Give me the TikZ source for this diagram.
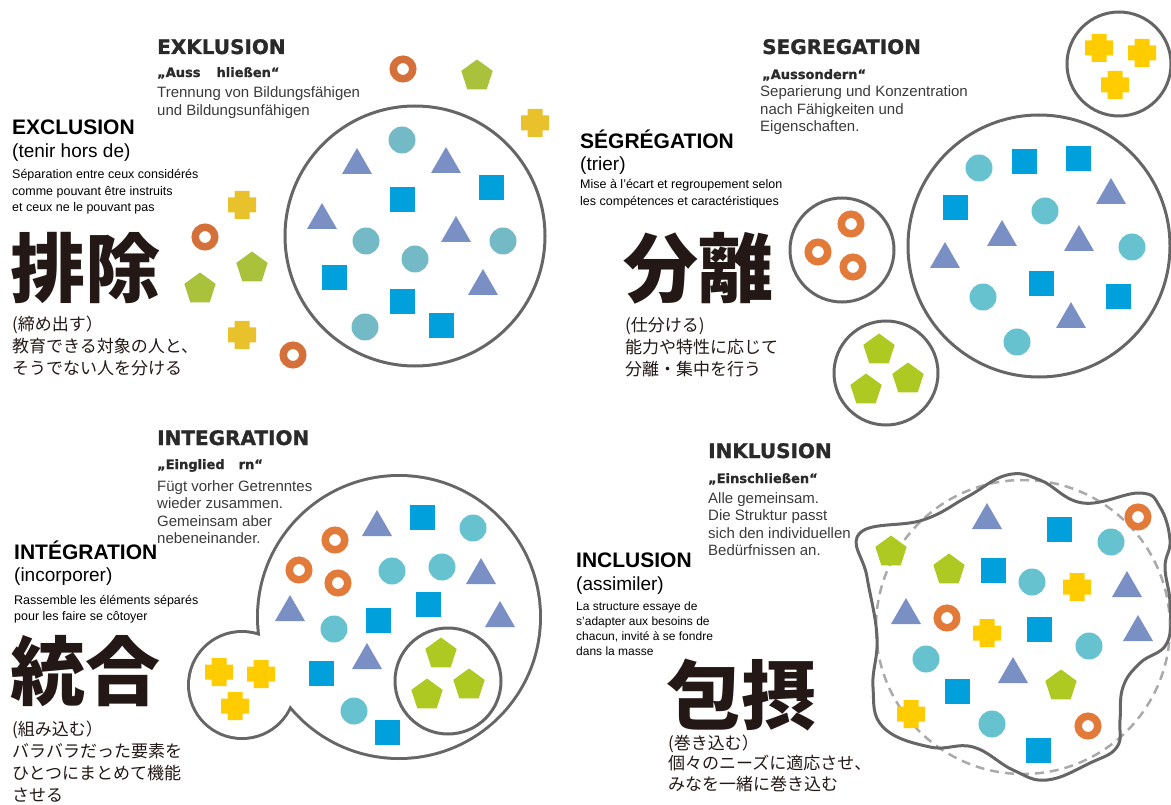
\documentclass[tikz,border=0pt]{standalone}
\usepackage{fontspec}
\setmainfont{Liberation Sans}
\newfontfamily\heavy[BoldFeatures={FakeBold=1.2}]{DejaVu Sans}
\newfontfamily\jp{Noto Sans CJK JP}
\definecolor{discc}{HTML}{66C2CF}
\definecolor{discx}{HTML}{74BAC6}
\definecolor{squc}{HTML}{00A0DC}
\definecolor{tric}{HTML}{7A8FC4}
\definecolor{pentc}{HTML}{AECA22}
\definecolor{pentx}{HTML}{A9C13B}
\definecolor{plusc}{HTML}{FFCC00}
\definecolor{plusx}{HTML}{E9C12B}
\definecolor{ringc}{HTML}{E27A3A}
\definecolor{ringx}{HTML}{D4713A}
\definecolor{outl}{HTML}{666666}
\definecolor{dashc}{HTML}{AAAAAA}
\definecolor{degr}{HTML}{2A2A2A}
\definecolor{detxt}{HTML}{3A3A3A}
\definecolor{jptxt}{HTML}{231815}
\tikzset{
  pics/disc/.style={code={\fill[#1] (0,0) circle [radius=13.5];}},
  pics/disc/.default=discc,
  pics/squ/.style={code={\fill[squc] (-12.5,-12.5) rectangle (12.5,12.5);}},
  pics/tri/.style={code={\fill[tric] (-15,9) -- (15,9) -- (0,-17) -- cycle;}},
  pics/pent/.style={code={\fill[#1] (-90:16.5) -- (-18:16.5) -- (54:16.5) -- (126:16.5) -- (198:16.5) -- cycle;}},
  pics/pent/.default=pentc,
  pics/plus/.style={code={\fill[#1] (-14,-7.5) rectangle (14,7.5) (-7.5,-14) rectangle (7.5,14);}},
  pics/plus/.default=plusc,
  pics/ring/.style={code={\draw[#1, line width=7.5] (0,0) circle [radius=9.75];}},
  pics/ring/.default=ringc,
  txt/.style={anchor=base west, inner sep=0pt, align=left},
  detitle/.style={txt, text=degr, font=\heavy\bfseries\fontsize{20}{24}\selectfont},
  dequote/.style={txt, text=degr, font=\heavy\bfseries\fontsize{13}{16}\selectfont},
  debody/.style={txt, text=detxt, font=\fontsize{15}{17.5}\selectfont},
  frtitle/.style={txt, font=\bfseries\fontsize{21}{24}\selectfont},
  frsub/.style={txt, font=\fontsize{19}{22}\selectfont},
  frbody/.style={txt, font=\fontsize{12.5}{16.5}\selectfont},
  bigkanji/.style={txt, text=jptxt, font=\jp\bfseries\fontsize{75}{80}\selectfont},
  jpbody/.style={txt, text=jptxt, font=\jp\fontsize{17}{21.7}\selectfont},
  rim/.style={outl, line width=3}
}
\begin{document}
\begin{tikzpicture}[x=1pt,y=-1pt]
\useasboundingbox (0,0) rectangle (1171,805);

% exclusion (multi-line texts sit on their last line)
\node [detitle] (exkl) at (157,54) {EXKLUSION};
\node [dequote] (exklq) at (157,77) {„Auss\hspace{16pt}hließen“};
\node [debody] (exkltxt) at (157,115.5) {Trennung von Bildungsfähigen\\und Bildungsunfähigen};
\node [frtitle] (excl) at (12,135) {EXCLUSION};
\node [frsub] (exclsub) at (12,158) {(tenir hors de)};
\node [frbody] (excltxt) at (12,212) {Séparation entre ceux considérés\\comme pouvant être instruits\\et ceux ne le pouvant pas};
\node [bigkanji] (haijo) at (10,297) {排除};
\node [jpbody] (haijotxt) at (12,374) {(締め出す）\\教育できる対象の人と、\\そうでない人を分ける};

\draw[rim] (415,236) circle [radius=130];
\pic at (402,140) {disc=discx};
\pic at (357,165) {tri};
\pic at (446,164) {tri};
\pic at (491,188) {squ};
\pic at (402,200) {squ};
\pic at (322,220) {tri};
\pic at (366,241) {disc=discx};
\pic at (456,233) {tri};
\pic at (503,241) {disc=discx};
\pic at (415,259) {disc=discx};
\pic at (334,278) {squ};
\pic at (402,302) {squ};
\pic at (483,286) {tri};
\pic at (365,327) {disc=discx};
\pic at (441,326) {squ};
\pic at (403,69) {ring=ringx};
\pic at (477,76) {pent=pentx};
\pic at (535,123) {plus=plusx};
\pic at (242,205) {plus=plusx};
\pic at (205,237) {ring=ringx};
\pic at (252,268) {pent=pentx};
\pic at (200,289) {pent=pentx};
\pic at (242,335) {plus=plusx};
\pic at (293,355) {ring=ringx};

% segregation
\node [detitle] (segr) at (762,54) {SEGREGATION};
\node [dequote] (segrq) at (762,79) {„Aussondern“};
\node [debody] (segrtxt) at (760,132) {Separierung und Konzentration\\nach Fähigkeiten und\\Eigenschaften.};
\node [frtitle] (segf) at (580,149) {SÉGRÉGATION};
\node [frsub] (segfsub) at (580,171) {(trier)};
\node [frbody] (segftxt) at (580,205.5) {Mise à l'écart et regroupement selon\\les compétences et caractéristiques};
\node [bigkanji] (bunri) at (623,297) {分離};
\node [jpbody] (bunritxt) at (625,375) {(仕分ける)\\能力や特性に応じて\\分離・集中を行う};

\draw[rim] (1119,64) circle [radius=52];
\pic at (1099,48) {plus};
\pic at (1142,53) {plus};
\pic at (1115,85) {plus};
\draw[rim] (1039,246) circle [radius=131];
\pic at (979,168) {disc};
\pic at (1024,162) {squ};
\pic at (1078,159) {squ};
\pic at (955,208) {squ};
\pic at (1045,211) {disc};
\pic at (1111,195) {tri};
\pic at (1002,237) {tri};
\pic at (1079,242) {tri};
\pic at (1132,247) {disc};
\pic at (945,259) {tri};
\pic at (1041,284) {squ};
\pic at (1118,297) {squ};
\pic at (983,297) {disc};
\pic at (1071,319) {tri};
\pic at (1017,342) {disc};
\draw[rim] (842,250) circle [radius=52];
\pic at (851,224) {ring};
\pic at (818,252) {ring};
\pic at (853,267) {ring};
\draw[rim] (886,373) circle [radius=52];
\pic at (879,350) {pent};
\pic at (908,379) {pent};
\pic at (866,390) {pent};

% integration
\node [detitle] (integ) at (157,445) {INTEGRATION};
\node [dequote] (integq) at (157,469) {„Einglied\hspace{14pt}rn“};
\node [debody] (integtxt) at (157,543.5) {Fügt vorher Getrenntes\\wieder zusammen.\\Gemeinsam aber\\nebeneinander.};
\node [frtitle] (intf) at (14,559) {INTÉGRATION};
\node [frsub] (intfsub) at (14,581) {(incorporer)};
\node [frbody] (intftxt) at (14,620.5) {Rassemble les éléments séparés\\pour les faire se côtoyer};
\node [bigkanji] (tougou) at (10,699) {統合};
\node [jpbody] (tougoutxt) at (12,801) {(組み込む）\\バラバラだった要素を\\ひとつにまとめて機能\\させる};

\draw[outl, line width=6] (399,617) circle [radius=140] (242,685) circle [radius=52];
\fill[white] (399,617) circle [radius=140] (242,685) circle [radius=52];
\draw[rim] (448,681) circle [radius=53];
\pic at (441,654) {pent};
\pic at (469,685) {pent};
\pic at (427,695) {pent};
\pic at (335,540) {ring};
\pic at (299,570) {ring};
\pic at (338,583) {ring};
\pic at (377,527) {tri};
\pic at (422,517) {squ};
\pic at (473,528) {disc};
\pic at (392,571) {disc};
\pic at (442,567) {disc};
\pic at (481,575) {tri};
\pic at (428,604) {squ};
\pic at (290,612) {tri};
\pic at (334,629) {disc};
\pic at (378,620) {squ};
\pic at (500,618) {tri};
\pic at (367,660) {tri};
\pic at (321,673) {squ};
\pic at (354,711) {disc};
\pic at (387,732) {squ};
\pic at (219,672) {plus};
\pic at (261,674) {plus};
\pic at (235,706) {plus};

% inclusion
\node [detitle] (inkl) at (708,458) {INKLUSION};
\node [dequote] (inklq) at (708,483) {„Einschließen“};
\node [debody] (inkltxt) at (708,555.5) {Alle gemeinsam.\\Die Struktur passt\\sich den individuellen\\Bedürfnissen an.};
\node [frtitle] (inclf) at (576,567) {INCLUSION};
\node [frsub] (inclfsub) at (576,590) {(assimiler)};
\node [frbody, font=\fontsize{12}{15}\selectfont] (incltxt) at (576,655) {La structure essaye de\\s'adapter aux besoins de\\chacun, invité à se fondre\\dans la masse};
\node [bigkanji] (housetsu) at (666,723) {包摂};
\node [jpbody, font=\jp\fontsize{17}{20.5}\selectfont] (housetsutxt) at (668,790) {(巻き込む）\\個々のニーズに適応させ、\\みなを一緒に巻き込む};

\draw[dashc, line width=2.5, dash pattern=on 9pt off 6pt] (1023,627) circle [radius=147];
\draw[rim] plot[smooth cycle, tension=0.7] coordinates {(860,533) (923,520) (967,497) (1007,475) (1040,480) (1083,503) (1140,493) (1160,507) (1170,540) (1165,567) (1170,603) (1167,643) (1140,663) (1123,687) (1120,720) (1117,747) (1090,763) (1047,780) (1013,770) (973,747) (930,747) (883,727) (873,687) (877,637) (867,577)};
\pic at (987,520) {tri};
\pic at (1059,529) {squ};
\pic at (1138,517) {ring};
\pic at (891,552) {pent};
\pic at (1111,542) {disc};
\pic at (949,570) {pent};
\pic at (993,570) {squ};
\pic at (1032,582) {disc};
\pic at (1077,587) {plus};
\pic at (1127,588) {tri};
\pic at (906,615) {tri};
\pic at (947,618) {ring};
\pic at (987,633) {plus};
\pic at (1039,629) {squ};
\pic at (1138,632) {tri};
\pic at (1089,646) {disc};
\pic at (926,659) {disc};
\pic at (1013,674) {tri};
\pic at (1061,686) {pent};
\pic at (957,691) {squ};
\pic at (911,714) {plus};
\pic at (992,724) {disc};
\pic at (1088,726) {ring};
\pic at (1038,750) {squ};
\end{tikzpicture}
\end{document}
